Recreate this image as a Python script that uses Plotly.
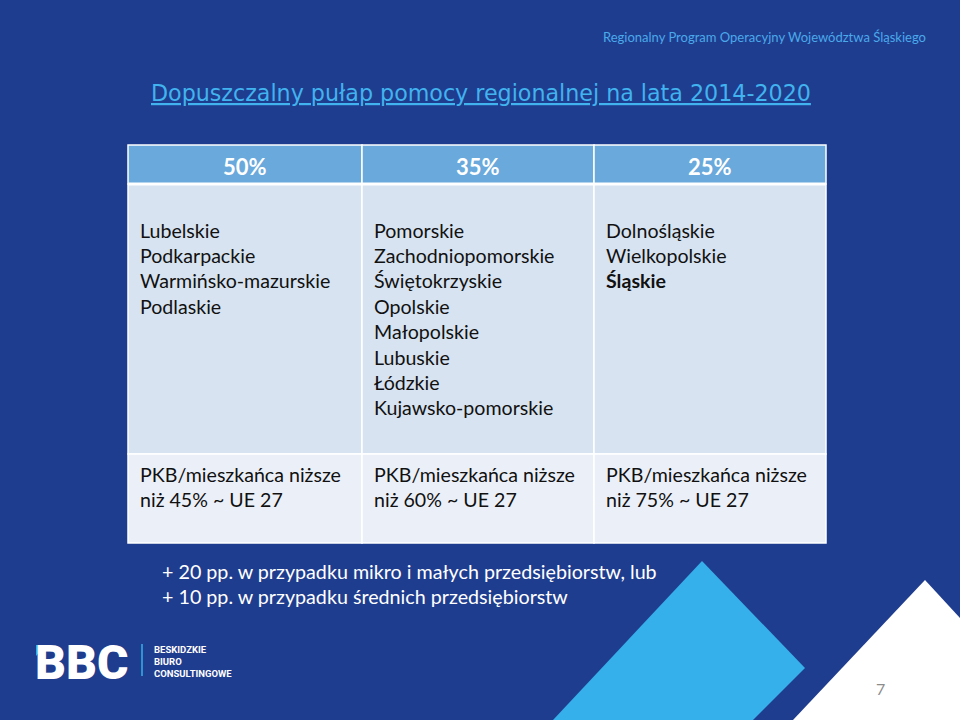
import plotly.graph_objects as go

# ---- data ----
top_label = "Regionalny Program Operacyjny Województwa Śląskiego"
title = "Dopuszczalny pułap pomocy regionalnej na lata 2014-2020"
thresholds = ["50%", "35%", "25%"]
regions_50 = ["Lubelskie", "Podkarpackie", "Warmińsko-mazurskie", "Podlaskie"]
regions_35 = ["Pomorskie", "Zachodniopomorskie", "Świętokrzyskie", "Opolskie",
              "Małopolskie", "Lubuskie", "Łódzkie", "Kujawsko-pomorskie"]
regions_25 = ["Dolnośląskie", "Wielkopolskie", "Śląskie"]
bold_regions = ["Śląskie"]
criteria_line1 = ["PKB/mieszkańca niższe"] * 3
criteria_line2 = ["niż 45% ~ UE 27", "niż 60% ~ UE 27", "niż 75% ~ UE 27"]
notes = ["+ 20 pp. w przypadku mikro i małych przedsiębiorstw, lub",
         "+ 10 pp. w przypadku średnich przedsiębiorstw"]
logo_text = "BBC"
logo_words = ["BESKIDZKIE", "BIURO", "CONSULTINGOWE"]
page_number = "7"

# ---- style ----
BG = "#1f3d8f"
HEADER = "#69a9dc"
ROW1 = "#d7e3f0"
ROW2 = "#ebf0f8"
LIGHT = "#36b0ea"
TXT = "#111111"
FONT = "Lato"

col_edges = [128, 362, 594, 826]
row_edges = [145, 184, 454, 543]
line_h = 25.4

fig = go.Figure()
fig.add_trace(go.Scatter(x=[0, 960], y=[0, 720], mode="markers",
                         marker=dict(opacity=0), hoverinfo="skip", showlegend=False))

shapes = []
# decorative triangles
shapes.append(dict(type="path", path="M 702,561 L 805,668 L 753,720 L 553,720 Z",
                   fillcolor=LIGHT, line=dict(width=0), layer="below"))
shapes.append(dict(type="path", path="M 925,580 L 960,618 L 960,720 L 793,720 Z",
                   fillcolor="#ffffff", line=dict(width=0), layer="below"))

# table cells
row_colors = [HEADER, ROW1, ROW2]
for r in range(3):
    for c in range(3):
        shapes.append(dict(type="rect", x0=col_edges[c], x1=col_edges[c + 1],
                           y0=row_edges[r], y1=row_edges[r + 1],
                           fillcolor=row_colors[r], line=dict(color="#ffffff", width=1.5)))
shapes.append(dict(type="line", x0=col_edges[0], x1=col_edges[3], y0=184, y1=184,
                   line=dict(color="#ffffff", width=3)))

# logo bits
shapes.append(dict(type="line", x0=142, x1=142, y0=644, y1=676,
                   line=dict(color=LIGHT, width=1.5)))

ann = []
def text(x, y, s, size, color=TXT, family=FONT, anchor="left", weight="normal"):
    ann.append(dict(x=x, y=y, text=s, showarrow=False, xanchor=anchor, yanchor="middle",
                    font=dict(size=size, color=color, family=family, weight=weight)))

text(928, 37, top_label, 13, color="#4aa9ea", anchor="right")
text(481, 93, "<u>" + title + "</u>", 22.2, color="#41b3ee", family="DejaVu Sans", anchor="center")

for c, t in enumerate(thresholds):
    text((col_edges[c] + col_edges[c + 1]) / 2, 166, t, 22, color="#ffffff",
         anchor="center", weight="bold")

for c, regs in enumerate([regions_50, regions_35, regions_25]):
    for i, name in enumerate(regs):
        text(col_edges[c] + 10, 230 + i * line_h, name, 19.6,
             weight="bold" if name in bold_regions else "normal")

for c in range(3):
    text(col_edges[c] + 10, 474, criteria_line1[c], 19.6)
    text(col_edges[c] + 10, 499, criteria_line2[c], 19.6)

for i, n in enumerate(notes):
    text(160, 571 + i * 25, n, 19.7, color="#ffffff")

text(33, 662, logo_text, 48, color="#ffffff", family="Roboto", weight=900)
for i, w in enumerate(logo_words):
    text(152, 649 + i * 12.3, w, 9.5, color="#ffffff", family="Roboto", weight="bold")

text(880, 688, page_number, 16, color="#8c8c8c", anchor="center")

fig.update_layout(
    width=960, height=720, margin=dict(l=0, r=0, t=0, b=0),
    paper_bgcolor=BG, plot_bgcolor=BG,
    xaxis=dict(range=[0, 960], visible=False, fixedrange=True),
    yaxis=dict(range=[720, 0], visible=False, fixedrange=True),
    shapes=shapes, annotations=ann, showlegend=False,
)
# small light-blue accent on the logo, drawn on top of the text
fig.add_shape(type="path", path="M 36,645 L 46,645 L 36,656 Z",
              fillcolor=LIGHT, line=dict(width=0), layer="above")
fig.write_html("out.html", config={"displayModeBar": False, "staticPlot": True},
               post_script="document.body.style.margin='0';document.body.style.background='%s';" % BG)
